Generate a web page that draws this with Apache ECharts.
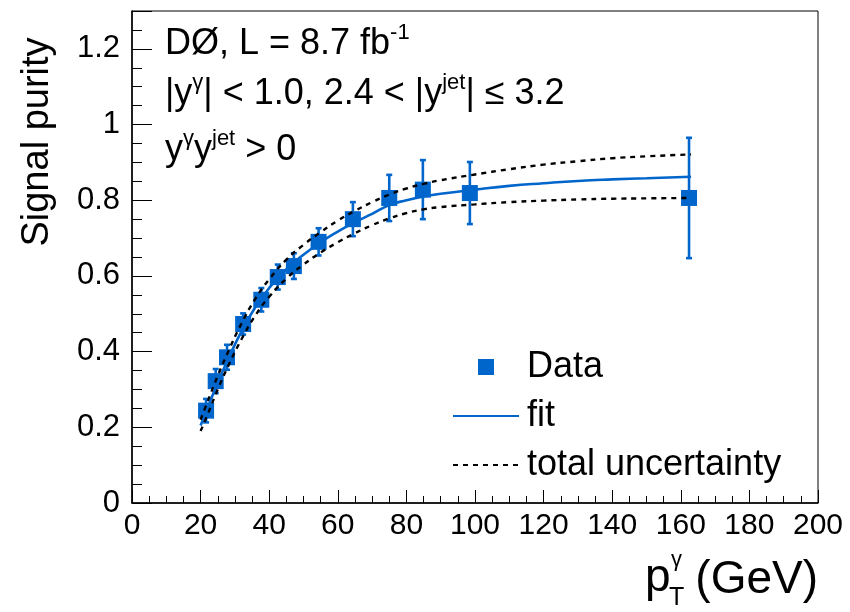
<!DOCTYPE html>
<html>
<head>
<meta charset="utf-8">
<script src="https://cdn.jsdelivr.net/npm/echarts@6/dist/echarts.min.js"></script>
<style>
  html, body { margin: 0; padding: 0; background: #fff; }
  #chart { width: 850px; height: 612px; }
</style>
</head>
<body>
<div id="chart"></div>
<script>
// Measured photon pT bins (GeV), signal purity and its uncertainty
const ptGamma   = [21.6, 24.4, 27.7, 32.4, 37.7, 42.5, 47.2, 54.4, 64.4, 75.0, 84.8, 98.5, 162.4];
const purity    = [0.244, 0.322, 0.385, 0.473, 0.537, 0.597, 0.626, 0.690, 0.750, 0.806, 0.828, 0.819, 0.806];
const purityErr = [0.031, 0.032, 0.033, 0.028, 0.031, 0.033, 0.034, 0.036, 0.045, 0.061, 0.078, 0.082, 0.159];

// Fitted purity curve and its total-uncertainty envelope
const fitPt   = [20, 22, 25, 28, 32, 36, 40, 45, 50, 55, 60, 65, 70, 75, 80, 85, 90, 100, 110, 120, 130, 140, 150, 163];
const fitVal  = [0.205, 0.250, 0.318, 0.380, 0.455, 0.518, 0.568, 0.618, 0.656, 0.689, 0.717, 0.742, 0.764, 0.787, 0.800, 0.810, 0.817, 0.828, 0.838, 0.845, 0.851, 0.855, 0.858, 0.862];
const bandUp  = [0.220, 0.267, 0.336, 0.399, 0.476, 0.540, 0.591, 0.643, 0.682, 0.716, 0.746, 0.772, 0.795, 0.815, 0.831, 0.843, 0.853, 0.868, 0.882, 0.894, 0.903, 0.911, 0.916, 0.921];
const bandLow = [0.190, 0.233, 0.300, 0.361, 0.434, 0.496, 0.545, 0.593, 0.630, 0.662, 0.689, 0.713, 0.734, 0.752, 0.766, 0.776, 0.782, 0.789, 0.795, 0.799, 0.802, 0.804, 0.805, 0.806];

// Axis tick values
const xTicks = [0, 20, 40, 60, 80, 100, 120, 140, 160, 180, 200];
const yTicks = [0, 0.2, 0.4, 0.6, 0.8, 1, 1.2];

const BLUE = '#0066CC';
const FONT = '"Liberation Sans", Arial, Helvetica, sans-serif';

const pairs = (xs, ys) => xs.map((x, i) => [x, ys[i]]);

const chart = echarts.init(document.getElementById('chart'), null, { renderer: 'canvas' });

const option = {
  backgroundColor: '#fff',
  animation: false,
  textStyle: { fontFamily: FONT, color: '#000' },
  grid: {
    left: 132, top: 11, width: 686, height: 492,
    show: true, borderColor: '#000', borderWidth: 1, backgroundColor: 'transparent'
  },
  xAxis: {
    type: 'value',
    min: xTicks[0], max: xTicks[xTicks.length - 1], interval: xTicks[1] - xTicks[0],
    axisLine: { lineStyle: { color: '#000', width: 1.5 } },
    axisTick: { inside: true, length: 13, lineStyle: { color: '#000', width: 1 } },
    minorTick: { show: true, splitNumber: 4, length: 7, lineStyle: { color: '#000', width: 1 } },
    splitLine: { show: false },
    axisLabel: { fontSize: 30, color: '#000', margin: 8, fontFamily: FONT }
  },
  yAxis: {
    type: 'value',
    min: yTicks[0], max: 1.3, interval: yTicks[1] - yTicks[0],
    axisLine: { lineStyle: { color: '#000', width: 1.5 } },
    axisTick: { inside: true, length: 20, lineStyle: { color: '#000', width: 1 } },
    minorTick: { show: true, splitNumber: 4, length: 10, lineStyle: { color: '#000', width: 1 } },
    splitLine: { show: false },
    axisLabel: {
      fontSize: 31, color: '#000', margin: 12, fontFamily: FONT, showMaxLabel: false,
      formatter: v => (yTicks.some(t => Math.abs(t - v) < 1e-9) ? String(+v.toFixed(2)) : '')
    }
  },
  legend: {
    orient: 'vertical',
    left: 447, top: 344,
    itemWidth: 66, itemHeight: 16, itemGap: 13,
    symbolKeepAspect: true,
    textStyle: { fontSize: 36, color: '#000', fontFamily: FONT, lineHeight: 36, padding: [0, 0, 0, 3] },
    data: [
      { name: 'Data', icon: 'path://M0,0H10V10H0Z' },
      { name: 'fit', itemStyle: { opacity: 0 } },
      { name: 'total uncertainty', itemStyle: { opacity: 0 } }
    ]
  },
  series: [
    {
      name: 'Data',
      type: 'scatter',
      symbol: 'rect',
      symbolSize: 16,
      itemStyle: { color: BLUE, opacity: 1 },
      data: pairs(ptGamma, purity),
      z: 3
    },
    {
      name: 'Data',
      type: 'custom',
      renderItem: (params, api) => {
        const x = api.value(0), y = api.value(1), e = api.value(2);
        const top = api.coord([x, y + e]);
        const bot = api.coord([x, y - e]);
        const cap = 3;
        const st = { stroke: BLUE, lineWidth: 2.6 };
        return {
          type: 'group',
          children: [
            { type: 'line', shape: { x1: top[0], y1: top[1], x2: bot[0], y2: bot[1] }, style: st },
            { type: 'line', shape: { x1: top[0] - cap, y1: top[1], x2: top[0] + cap, y2: top[1] }, style: st },
            { type: 'line', shape: { x1: bot[0] - cap, y1: bot[1], x2: bot[0] + cap, y2: bot[1] }, style: st }
          ]
        };
      },
      encode: { x: 0, y: 1 },
      data: ptGamma.map((x, i) => [x, purity[i], purityErr[i]]),
      z: 2
    },
    {
      name: 'fit',
      type: 'line',
      smooth: true,
      symbol: 'none',
      lineStyle: { color: BLUE, width: 2.6 },
      itemStyle: { color: BLUE },
      data: pairs(fitPt, fitVal),
      z: 4
    },
    {
      name: 'total uncertainty',
      type: 'line',
      smooth: true,
      symbol: 'none',
      lineStyle: { color: '#000', width: 2.4, type: [5, 5] },
      itemStyle: { color: '#000' },
      data: pairs(fitPt, bandUp),
      z: 5
    },
    {
      name: 'total uncertainty',
      type: 'line',
      smooth: true,
      symbol: 'none',
      lineStyle: { color: '#000', width: 2.4, type: [5, 5] },
      itemStyle: { color: '#000' },
      data: pairs(fitPt, bandLow),
      z: 5
    }
  ],
  graphic: [
    // Y-axis title
    {
      type: 'text', x: 38, y: 142, rotation: Math.PI / 2,
      style: { text: 'Signal purity', font: '38px ' + FONT, fill: '#000', align: 'center', verticalAlign: 'middle' }
    },
    // X-axis title: p with subscript T and superscript gamma, then the unit
    {
      type: 'text', x: 645, y: 578,
      style: { text: 'p', font: '46px ' + FONT, fill: '#000', align: 'left', verticalAlign: 'middle' }
    },
    {
      type: 'text', x: 671, y: 560,
      style: { text: 'γ', font: '22px ' + FONT, fill: '#000', align: 'left', verticalAlign: 'middle' }
    },
    {
      type: 'text', x: 669, y: 598,
      style: { text: 'T', font: '25px ' + FONT, fill: '#000', align: 'left', verticalAlign: 'middle' }
    },
    {
      type: 'text', x: 818, y: 580,
      style: { text: '(GeV)', font: '46px ' + FONT, fill: '#000', align: 'right', verticalAlign: 'middle' }
    },
    // Experiment and selection labels
    {
      type: 'text', x: 165, y: 22,
      style: {
        text: '{m|DØ, L = 8.7 fb}{s|-1}',
        rich: {
          m: { font: '36px ' + FONT, fill: '#000', lineHeight: 40, verticalAlign: 'bottom' },
          s: { font: '22px ' + FONT, fill: '#000', lineHeight: 40, verticalAlign: 'top' }
        }
      }
    },
    {
      type: 'text', x: 165, y: 72,
      style: {
        text: '{m||y}{s|γ}{m|| < 1.0, 2.4 < |y}{s|jet}{m|| ≤ 3.2}',
        rich: {
          m: { font: '36px ' + FONT, fill: '#000', lineHeight: 40, verticalAlign: 'bottom' },
          s: { font: '22px ' + FONT, fill: '#000', lineHeight: 40, verticalAlign: 'top' }
        }
      }
    },
    {
      type: 'text', x: 165, y: 128,
      style: {
        text: '{m|y}{s|γ}{m|y}{s|jet}{m| > 0}',
        rich: {
          m: { font: '36px ' + FONT, fill: '#000', lineHeight: 40, verticalAlign: 'bottom' },
          s: { font: '22px ' + FONT, fill: '#000', lineHeight: 40, verticalAlign: 'top' }
        }
      }
    }
  ]
};

chart.setOption(option);
</script>
</body>
</html>
